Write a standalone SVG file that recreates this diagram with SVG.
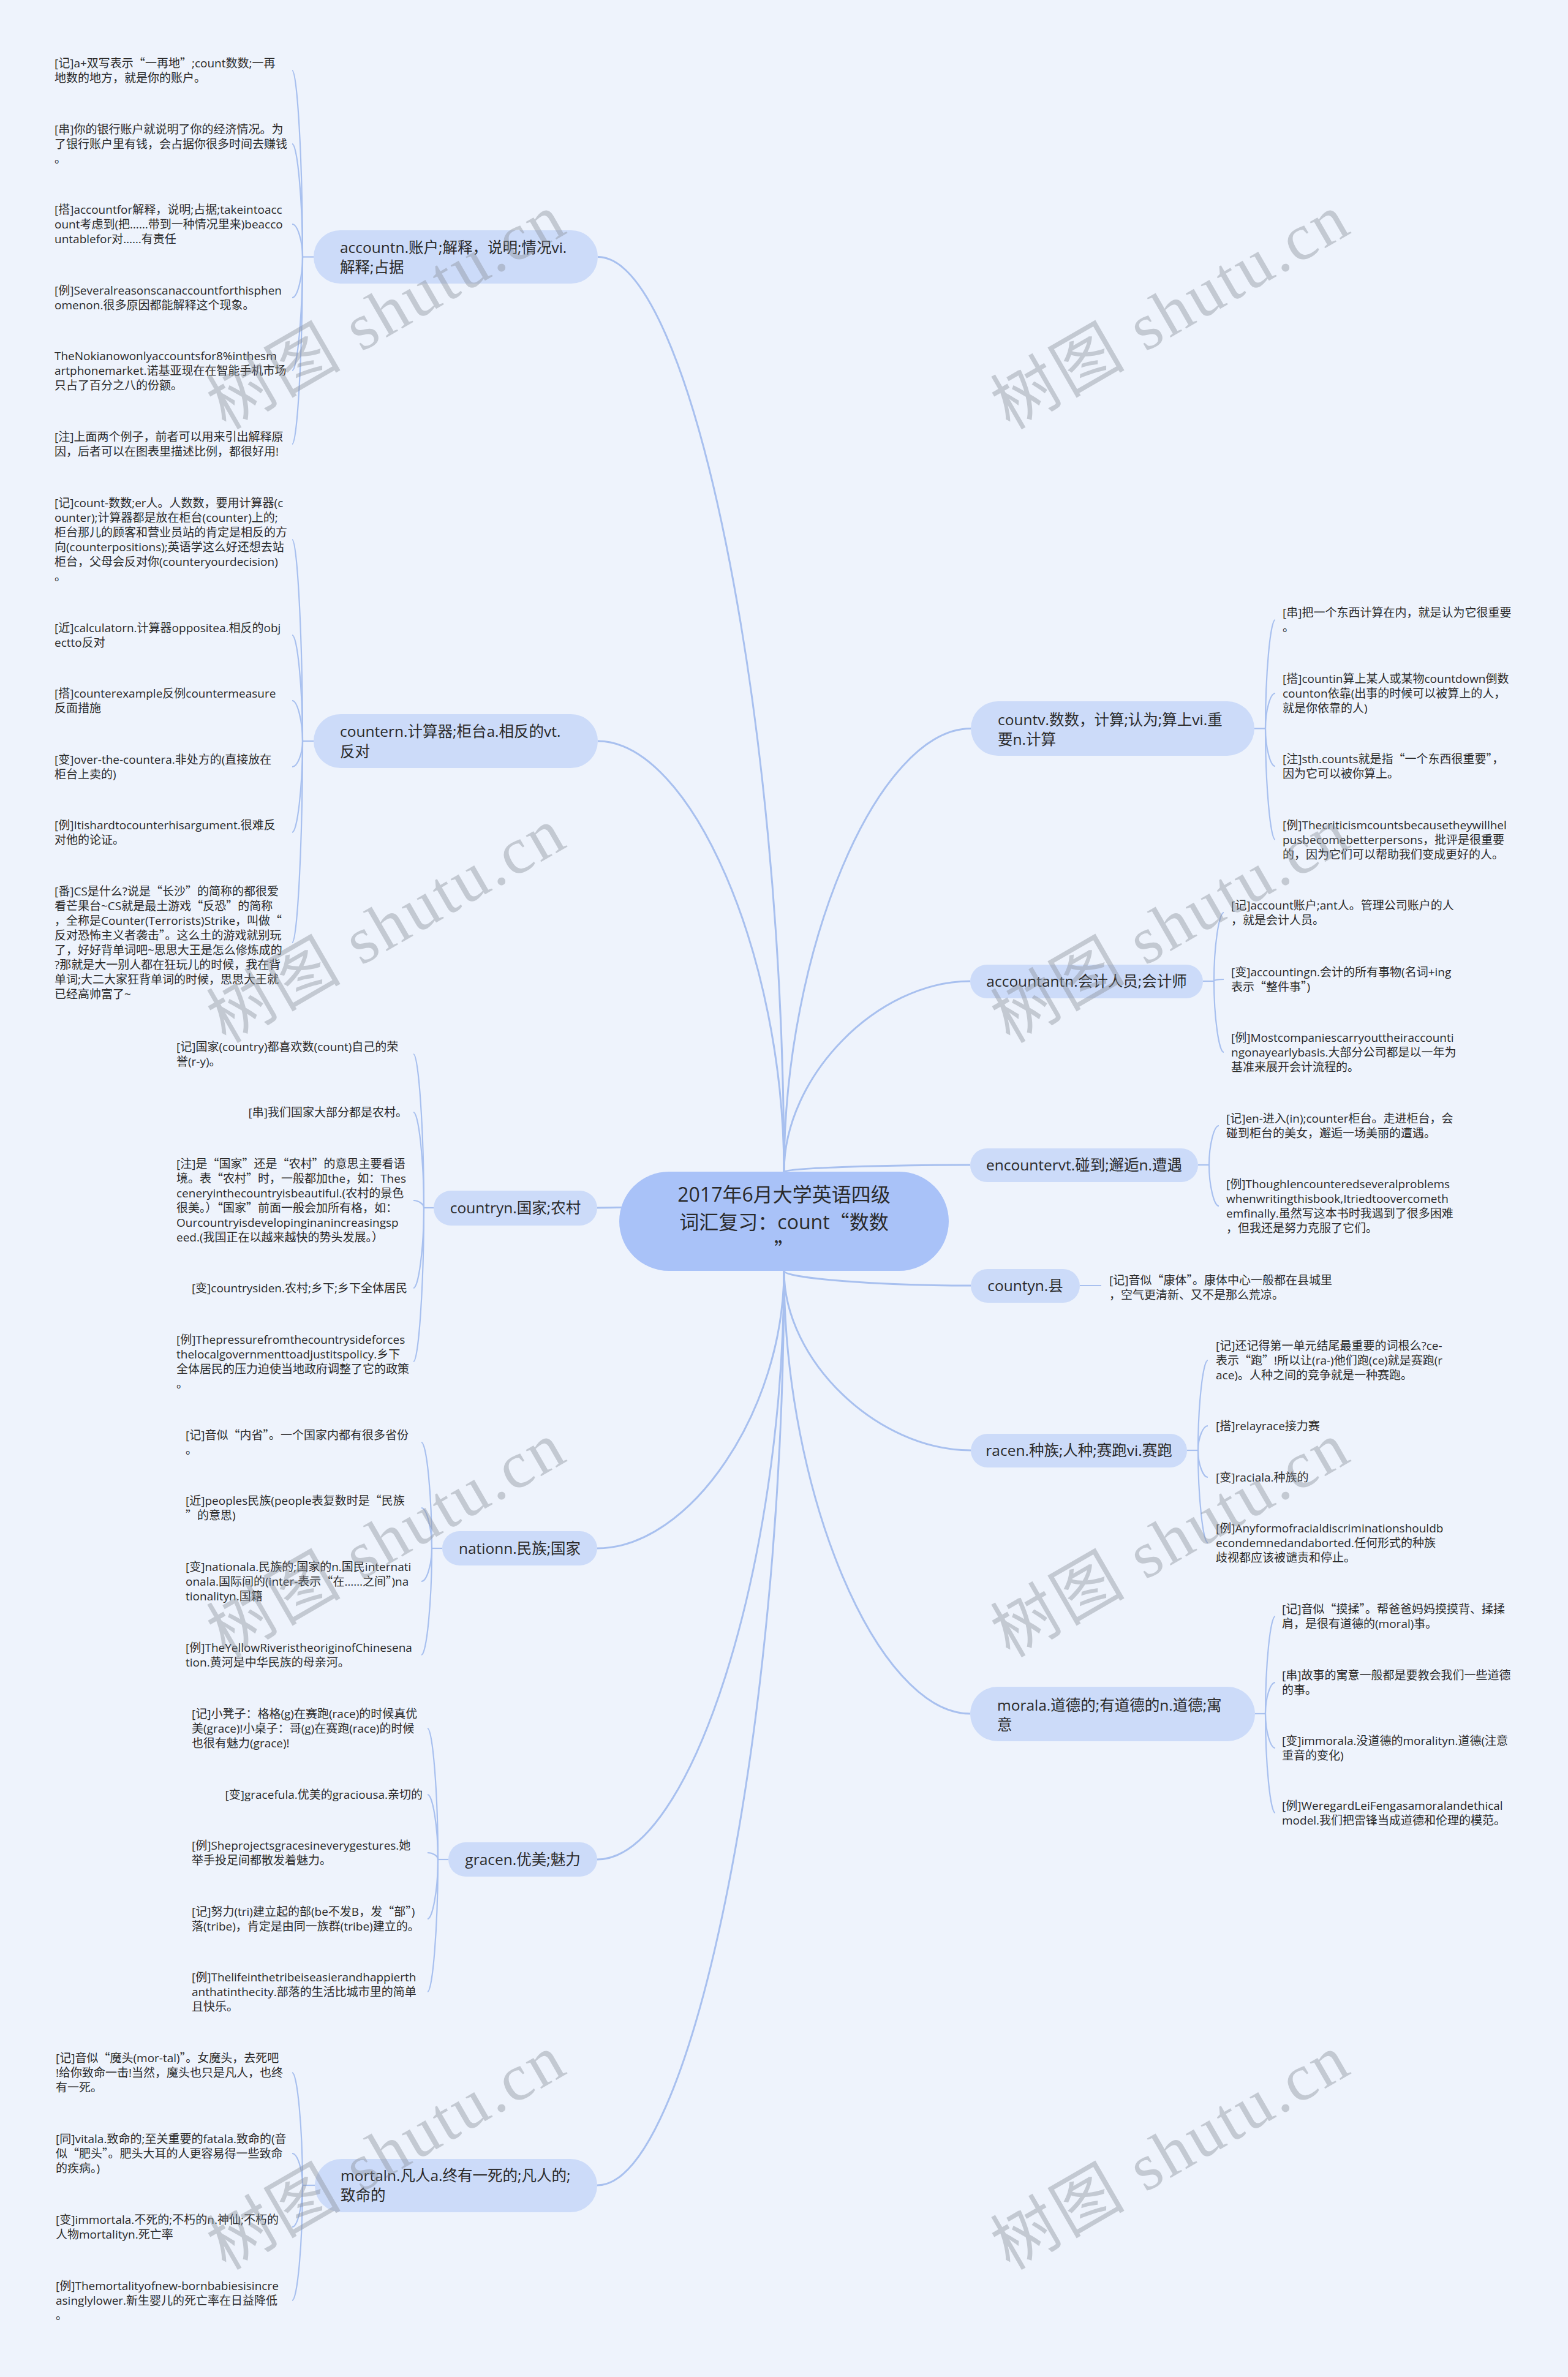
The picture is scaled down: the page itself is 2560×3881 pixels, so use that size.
<svg xmlns="http://www.w3.org/2000/svg" width="2560" height="3881" viewBox="0 0 2560 3881">
<defs>
<style>
.bg{fill:#eef3fc}
.mn{fill:#ccdbf9}
.ct{fill:#a9c2f8}
.ln{fill:none;stroke:#a8c0ef;stroke-width:3}
.ll{fill:none;stroke:#a8c0ef;stroke-width:2.2}
.t{font-family:'Open Sans','Noto Sans CJK SC',sans-serif;fill:#2a2a2a}
.q{font-family:'Noto Sans CJK SC',sans-serif}
.lf{font-size:19px}
.mt{font-size:24.5px}
.cx{font-size:32px}
.wm{font-family:'Liberation Serif','Noto Sans CJK SC',serif;font-size:108px;fill:#8a909a;opacity:0.42;letter-spacing:4px}
</style>
</defs>
<rect class="bg" x="0" y="0" width="2560" height="3881"/>

<g id="connectors">
<path class="ln" d="M1280 1913 C1280 1166 1128 419.5 976 419.5"/>
<path class="ln" d="M1280 1913 C1280 1561.5 1128 1210 976 1210"/>
<path class="ln" d="M1280 1913 C1280 1942.5 1127.5 1972 975 1972"/>
<path class="ln" d="M1280 1913 C1280 1551 1432.5 1189.5 1585 1189.5"/>
<path class="ln" d="M1280 1913 C1280 1757.5 1432 1602 1584 1602"/>
<path class="ln" d="M1280 1913 C1280 1907.5 1432 1902 1584 1902"/>
<path class="ln" d="M1280 2075 C1280 2301.5 1127.5 2528 975 2528"/>
<path class="ln" d="M1280 2075 C1280 2555.5 1127.5 3036 975 3036"/>
<path class="ln" d="M1280 2075 C1280 2821.5 1127.5 3568 975 3568"/>
<path class="ln" d="M1280 2075 C1280 2087 1432.5 2099 1585 2099"/>
<path class="ln" d="M1280 2075 C1280 2221.5 1432.5 2368 1585 2368"/>
<path class="ln" d="M1280 2075 C1280 2436.5 1432 2798 1584 2798"/>

<path class="ll" d="M512 419.5 H494"/>
<path class="ll" d="M494 419.5 C494 267 485.5 115 477 115"/>
<path class="ll" d="M494 419.5 C494 327 485.5 235 477 235"/>
<path class="ll" d="M494 419.5 C494 393 485.5 366 477 366"/>
<path class="ll" d="M494 419.5 C494 453 485.5 486 477 486"/>
<path class="ll" d="M494 419.5 C494 512 485.5 605 477 605"/>
<path class="ll" d="M494 419.5 C494 572 485.5 725 477 725"/>

<path class="ll" d="M512 1210 H494"/>
<path class="ll" d="M494 1210 C494 1045 485.5 881 477 881"/>
<path class="ll" d="M494 1210 C494 1123 485.5 1037 477 1037"/>
<path class="ll" d="M494 1210 C494 1177 485.5 1144 477 1144"/>
<path class="ll" d="M494 1210 C494 1231 485.5 1252 477 1252"/>
<path class="ll" d="M494 1210 C494 1284 485.5 1359 477 1359"/>
<path class="ll" d="M494 1210 C494 1374 485.5 1539 477 1539"/>

<path class="ll" d="M708 1972 H692"/>
<path class="ll" d="M692 1972 C692 1846 683.5 1721 675 1721"/>
<path class="ll" d="M692 1972 C692 1894 683.5 1816 675 1816"/>
<path class="ll" d="M692 1972 C692 1966 683.5 1960 675 1960"/>
<path class="ll" d="M692 1972 C692 2037 683.5 2103 675 2103"/>
<path class="ll" d="M692 1972 C692 2097 683.5 2223 675 2223"/>

<path class="ll" d="M722 2528 H705"/>
<path class="ll" d="M705 2528 C705 2441 696.5 2355 688 2355"/>
<path class="ll" d="M705 2528 C705 2495 696.5 2462 688 2462"/>
<path class="ll" d="M705 2528 C705 2555 696.5 2582 688 2582"/>
<path class="ll" d="M705 2528 C705 2615 696.5 2702 688 2702"/>

<path class="ll" d="M732 3036 H715"/>
<path class="ll" d="M715 3036 C715 2929 706.5 2822 698 2822"/>
<path class="ll" d="M715 3036 C715 2983 706.5 2930 698 2930"/>
<path class="ll" d="M715 3036 C715 3030 706.5 3025 698 3025"/>
<path class="ll" d="M715 3036 C715 3084 706.5 3133 698 3133"/>
<path class="ll" d="M715 3036 C715 3144 706.5 3252 698 3252"/>

<path class="ll" d="M514 3568 H494"/>
<path class="ll" d="M494 3568 C494 3476 485.5 3384 477 3384"/>
<path class="ll" d="M494 3568 C494 3542 485.5 3516 477 3516"/>
<path class="ll" d="M494 3568 C494 3602 485.5 3636 477 3636"/>
<path class="ll" d="M494 3568 C494 3662 485.5 3756 477 3756"/>

<path class="ll" d="M2048 1189.5 H2066"/>
<path class="ll" d="M2066 1189.5 C2066 1100 2074 1012 2082 1012"/>
<path class="ll" d="M2066 1189.5 C2066 1160 2074 1132 2082 1132"/>
<path class="ll" d="M2066 1189.5 C2066 1220 2074 1251 2082 1251"/>
<path class="ll" d="M2066 1189.5 C2066 1280 2074 1371 2082 1371"/>

<path class="ll" d="M1964 1602 H1982"/>
<path class="ll" d="M1982 1602 C1982 1546 1990 1490 1998 1490"/>
<path class="ll" d="M1982 1602 C1982 1600 1990 1599 1998 1599"/>
<path class="ll" d="M1982 1602 C1982 1660 1990 1718 1998 1718"/>

<path class="ll" d="M1956 1902 H1974"/>
<path class="ll" d="M1974 1902 C1974 1870 1982 1838 1990 1838"/>
<path class="ll" d="M1974 1902 C1974 1935 1982 1969 1990 1969"/>

<path class="ll" d="M1763 2099 H1798"/>

<path class="ll" d="M1938 2368 H1956"/>
<path class="ll" d="M1956 2368 C1956 2294 1964 2221 1972 2221"/>
<path class="ll" d="M1956 2368 C1956 2348 1964 2328 1972 2328"/>
<path class="ll" d="M1956 2368 C1956 2390 1964 2412 1972 2412"/>
<path class="ll" d="M1956 2368 C1956 2443 1964 2519 1972 2519"/>

<path class="ll" d="M2049 2798 H2066"/>
<path class="ll" d="M2066 2798 C2066 2718 2074 2639 2082 2639"/>
<path class="ll" d="M2066 2798 C2066 2772 2074 2747 2082 2747"/>
<path class="ll" d="M2066 2798 C2066 2826 2074 2854 2082 2854"/>
<path class="ll" d="M2066 2798 C2066 2879 2074 2960 2082 2960"/>
</g>

<g id="center">
<rect class="ct" x="1011" y="1913" width="538" height="162" rx="81"/>
<text class="t cx" text-anchor="middle"><tspan x="1280" y="1962">2017年6月大学英语四级</tspan><tspan x="1280" y="2007">词汇复习：count<tspan class="q">“</tspan>数数</tspan><tspan x="1280" y="2052" class="q">”</tspan></text>
</g>

<g id="n-account">
<rect class="mn" x="512" y="376" width="464" height="87" rx="43.5"/>
<text class="t mt"><tspan x="555" y="413">accountn.账户;解释，说明;情况vi.</tspan><tspan x="555" y="445">解释;占据</tspan></text>
</g>
<g id="n-account-leaves">
<text class="t lf"><tspan x="89" y="110">[记]a+双写表示<tspan class="q">“</tspan>一再地<tspan class="q">”</tspan>;count数数;一再</tspan><tspan x="89" y="134">地数的地方，就是你的账户。</tspan></text>
<text class="t lf"><tspan x="89" y="218">[串]你的银行账户就说明了你的经济情况。为</tspan><tspan x="89" y="242">了银行账户里有钱，会占据你很多时间去赚钱</tspan><tspan x="89" y="266">。</tspan></text>
<text class="t lf"><tspan x="89" y="349">[搭]accountfor解释，说明;占据;takeintoacc</tspan><tspan x="89" y="373">ount考虑到(把……带到一种情况里来)beacco</tspan><tspan x="89" y="397">untablefor对……有责任</tspan></text>
<text class="t lf"><tspan x="89" y="481">[例]Severalreasonscanaccountforthisphen</tspan><tspan x="89" y="505">omenon.很多原因都能解释这个现象。</tspan></text>
<text class="t lf"><tspan x="89" y="588">TheNokianowonlyaccountsfor8%inthesm</tspan><tspan x="89" y="612">artphonemarket.诺基亚现在在智能手机市场</tspan><tspan x="89" y="636">只占了百分之八的份额。</tspan></text>
<text class="t lf"><tspan x="89" y="720">[注]上面两个例子，前者可以用来引出解释原</tspan><tspan x="89" y="744">因，后者可以在图表里描述比例，都很好用!</tspan></text>
</g>

<g id="n-counter">
<rect class="mn" x="512" y="1166" width="464" height="88" rx="44"/>
<text class="t mt"><tspan x="555" y="1203">countern.计算器;柜台a.相反的vt.</tspan><tspan x="555" y="1236">反对</tspan></text>
</g>
<g id="n-counter-leaves">
<text class="t lf"><tspan x="89" y="828">[记]count-数数;er人。人数数，要用计算器(c</tspan><tspan x="89" y="852">ounter);计算器都是放在柜台(counter)上的;</tspan><tspan x="89" y="876">柜台那儿的顾客和营业员站的肯定是相反的方</tspan><tspan x="89" y="900">向(counterpositions);英语学这么好还想去站</tspan><tspan x="89" y="924">柜台，父母会反对你(counteryourdecision)</tspan><tspan x="89" y="948">。</tspan></text>
<text class="t lf"><tspan x="89" y="1032">[近]calculatorn.计算器oppositea.相反的obj</tspan><tspan x="89" y="1056">ectto反对</tspan></text>
<text class="t lf"><tspan x="89" y="1139">[搭]counterexample反例countermeasure</tspan><tspan x="89" y="1163">反面措施</tspan></text>
<text class="t lf"><tspan x="89" y="1247">[变]over-the-countera.非处方的(直接放在</tspan><tspan x="89" y="1271">柜台上卖的)</tspan></text>
<text class="t lf"><tspan x="89" y="1354">[例]Itishardtocounterhisargument.很难反</tspan><tspan x="89" y="1378">对他的论证。</tspan></text>
<text class="t lf"><tspan x="89" y="1462">[番]CS是什么?说是<tspan class="q">“</tspan>长沙<tspan class="q">”</tspan>的简称的都很爱</tspan><tspan x="89" y="1486">看芒果台~CS就是最土游戏<tspan class="q">“</tspan>反恐<tspan class="q">”</tspan>的简称</tspan><tspan x="89" y="1510">，全称是Counter(Terrorists)Strike，叫做<tspan class="q">“</tspan></tspan><tspan x="89" y="1534">反对恐怖主义者袭击<tspan class="q">”</tspan>。这么土的游戏就别玩</tspan><tspan x="89" y="1558">了，好好背单词吧~思思大王是怎么修炼成的</tspan><tspan x="89" y="1582">?那就是大一别人都在狂玩儿的时候，我在背</tspan><tspan x="89" y="1606">单词;大二大家狂背单词的时候，思思大王就</tspan><tspan x="89" y="1630">已经高帅富了~</tspan></text>
</g>

<g id="n-country">
<rect class="mn" x="708" y="1944" width="267" height="57" rx="28.5"/>
<text class="t mt" x="841.5" y="1981" text-anchor="middle">countryn.国家;农村</text>
</g>
<g id="n-country-leaves">
<text class="t lf"><tspan x="288" y="1716">[记]国家(country)都喜欢数(count)自己的荣</tspan><tspan x="288" y="1740">誉(r-y)。</tspan></text>
<text class="t lf" x="665" y="1823" text-anchor="end">[串]我们国家大部分都是农村。</text>
<text class="t lf"><tspan x="288" y="1907">[注]是<tspan class="q">“</tspan>国家<tspan class="q">”</tspan>还是<tspan class="q">“</tspan>农村<tspan class="q">”</tspan>的意思主要看语</tspan><tspan x="288" y="1931">境。表<tspan class="q">“</tspan>农村<tspan class="q">”</tspan>时，一般都加the，如：Thes</tspan><tspan x="288" y="1955">ceneryinthecountryisbeautiful.(农村的景色</tspan><tspan x="288" y="1979">很美。）<tspan class="q">“</tspan>国家<tspan class="q">”</tspan>前面一般会加所有格，如：</tspan><tspan x="288" y="2003">Ourcountryisdevelopinginanincreasingsp</tspan><tspan x="288" y="2027">eed.(我国正在以越来越快的势头发展。）</tspan></text>
<text class="t lf" x="665" y="2110" text-anchor="end">[变]countrysiden.农村;乡下;乡下全体居民</text>
<text class="t lf"><tspan x="288" y="2194">[例]Thepressurefromthecountrysideforces</tspan><tspan x="288" y="2218">thelocalgovernmenttoadjustitspolicy.乡下</tspan><tspan x="288" y="2242">全体居民的压力迫使当地政府调整了它的政策</tspan><tspan x="288" y="2266">。</tspan></text>
</g>

<g id="n-nation">
<rect class="mn" x="722" y="2500" width="253" height="56" rx="28"/>
<text class="t mt" x="848.5" y="2537" text-anchor="middle">nationn.民族;国家</text>
</g>
<g id="n-nation-leaves">
<text class="t lf"><tspan x="303" y="2350">[记]音似<tspan class="q">“</tspan>内省<tspan class="q">”</tspan>。一个国家内都有很多省份</tspan><tspan x="303" y="2374">。</tspan></text>
<text class="t lf"><tspan x="303" y="2457">[近]peoples民族(people表复数时是<tspan class="q">“</tspan>民族</tspan><tspan x="303" y="2481"><tspan class="q">”</tspan>的意思)</tspan></text>
<text class="t lf"><tspan x="303" y="2565">[变]nationala.民族的;国家的n.国民internati</tspan><tspan x="303" y="2589">onala.国际间的(inter-表示<tspan class="q">“</tspan>在……之间<tspan class="q">”</tspan>)na</tspan><tspan x="303" y="2613">tionalityn.国籍</tspan></text>
<text class="t lf"><tspan x="303" y="2697">[例]TheYellowRiveristheoriginofChinesena</tspan><tspan x="303" y="2721">tion.黄河是中华民族的母亲河。</tspan></text>
</g>

<g id="n-grace">
<rect class="mn" x="732" y="3008" width="243" height="56" rx="28"/>
<text class="t mt" x="853.5" y="3045" text-anchor="middle">gracen.优美;魅力</text>
</g>
<g id="n-grace-leaves">
<text class="t lf"><tspan x="313" y="2805">[记]小凳子：格格(g)在赛跑(race)的时候真优</tspan><tspan x="313" y="2829">美(grace)!小桌子：哥(g)在赛跑(race)的时候</tspan><tspan x="313" y="2853">也很有魅力(grace)!</tspan></text>
<text class="t lf" x="690" y="2937" text-anchor="end">[变]gracefula.优美的graciousa.亲切的</text>
<text class="t lf"><tspan x="313" y="3020">[例]Sheprojectsgracesineverygestures.她</tspan><tspan x="313" y="3044">举手投足间都散发着魅力。</tspan></text>
<text class="t lf"><tspan x="313" y="3128">[记]努力(tri)建立起的部(be不发B，发<tspan class="q">“</tspan>部<tspan class="q">”</tspan>)</tspan><tspan x="313" y="3152">落(tribe)，肯定是由同一族群(tribe)建立的。</tspan></text>
<text class="t lf"><tspan x="313" y="3235">[例]Thelifeinthetribeiseasierandhappierth</tspan><tspan x="313" y="3259">anthatinthecity.部落的生活比城市里的简单</tspan><tspan x="313" y="3283">且快乐。</tspan></text>
</g>

<g id="n-mortal">
<rect class="mn" x="514" y="3525" width="461" height="87" rx="43.5"/>
<text class="t mt"><tspan x="556" y="3561">mortaln.凡人a.终有一死的;凡人的;</tspan><tspan x="556" y="3593">致命的</tspan></text>
</g>
<g id="n-mortal-leaves">
<text class="t lf"><tspan x="91" y="3367">[记]音似<tspan class="q">“</tspan>魔头(mor-tal)<tspan class="q">”</tspan>。女魔头，去死吧</tspan><tspan x="91" y="3391">!给你致命一击!当然，魔头也只是凡人，也终</tspan><tspan x="91" y="3415">有一死。</tspan></text>
<text class="t lf"><tspan x="91" y="3499">[同]vitala.致命的;至关重要的fatala.致命的(音</tspan><tspan x="91" y="3523">似<tspan class="q">“</tspan>肥头<tspan class="q">”</tspan>。肥头大耳的人更容易得一些致命</tspan><tspan x="91" y="3547">的疾病。)</tspan></text>
<text class="t lf"><tspan x="91" y="3631">[变]immortala.不死的;不朽的n.神仙;不朽的</tspan><tspan x="91" y="3655">人物mortalityn.死亡率</tspan></text>
<text class="t lf"><tspan x="91" y="3739">[例]Themortalityofnew-bornbabiesisincre</tspan><tspan x="91" y="3763">asinglylower.新生婴儿的死亡率在日益降低</tspan><tspan x="91" y="3787">。</tspan></text>
</g>

<g id="n-count">
<rect class="mn" x="1585" y="1145" width="463" height="89" rx="44.5"/>
<text class="t mt"><tspan x="1629" y="1184">countv.数数，计算;认为;算上vi.重</tspan><tspan x="1629" y="1216">要n.计算</tspan></text>
</g>
<g id="n-count-leaves">
<text class="t lf"><tspan x="2094" y="1007">[串]把一个东西计算在内，就是认为它很重要</tspan><tspan x="2094" y="1031">。</tspan></text>
<text class="t lf"><tspan x="2094" y="1115">[搭]countin算上某人或某物countdown倒数</tspan><tspan x="2094" y="1139">counton依靠(出事的时候可以被算上的人，</tspan><tspan x="2094" y="1163">就是你依靠的人)</tspan></text>
<text class="t lf"><tspan x="2094" y="1246">[注]sth.counts就是指<tspan class="q">“</tspan>一个东西很重要<tspan class="q">”</tspan>，</tspan><tspan x="2094" y="1270">因为它可以被你算上。</tspan></text>
<text class="t lf"><tspan x="2094" y="1354">[例]Thecriticismcountsbecausetheywillhel</tspan><tspan x="2094" y="1378">pusbecomebetterpersons，批评是很重要</tspan><tspan x="2094" y="1402">的，因为它们可以帮助我们变成更好的人。</tspan></text>
</g>

<g id="n-accountant">
<rect class="mn" x="1584" y="1575" width="380" height="55" rx="27.5"/>
<text class="t mt" x="1774" y="1611" text-anchor="middle">accountantn.会计人员;会计师</text>
</g>
<g id="n-accountant-leaves">
<text class="t lf"><tspan x="2010" y="1485">[记]account账户;ant人。管理公司账户的人</tspan><tspan x="2010" y="1509">，就是会计人员。</tspan></text>
<text class="t lf"><tspan x="2010" y="1594">[变]accountingn.会计的所有事物(名词+ing</tspan><tspan x="2010" y="1618">表示<tspan class="q">“</tspan>整件事<tspan class="q">”</tspan>)</tspan></text>
<text class="t lf"><tspan x="2010" y="1701">[例]Mostcompaniescarryouttheiraccounti</tspan><tspan x="2010" y="1725">ngonayearlybasis.大部分公司都是以一年为</tspan><tspan x="2010" y="1749">基准来展开会计流程的。</tspan></text>
</g>

<g id="n-encounter">
<rect class="mn" x="1584" y="1875" width="372" height="55" rx="27.5"/>
<text class="t mt" x="1770" y="1911" text-anchor="middle">encountervt.碰到;邂逅n.遭遇</text>
</g>
<g id="n-encounter-leaves">
<text class="t lf"><tspan x="2002" y="1833">[记]en-进入(in);counter柜台。走进柜台，会</tspan><tspan x="2002" y="1857">碰到柜台的美女，邂逅一场美丽的遭遇。</tspan></text>
<text class="t lf"><tspan x="2002" y="1940">[例]ThoughIencounteredseveralproblems</tspan><tspan x="2002" y="1964">whenwritingthisbook,Itriedtoovercometh</tspan><tspan x="2002" y="1988">emfinally.虽然写这本书时我遇到了很多困难</tspan><tspan x="2002" y="2012">，但我还是努力克服了它们。</tspan></text>
</g>

<g id="n-county">
<rect class="mn" x="1585" y="2072" width="178" height="55" rx="27.5"/>
<text class="t mt" x="1674" y="2108" text-anchor="middle">countyn.县</text>
</g>
<g id="n-county-leaves">
<text class="t lf"><tspan x="1811" y="2097">[记]音似<tspan class="q">“</tspan>康体<tspan class="q">”</tspan>。康体中心一般都在县城里</tspan><tspan x="1811" y="2121">，空气更清新、又不是那么荒凉。</tspan></text>
</g>

<g id="n-race">
<rect class="mn" x="1585" y="2341" width="353" height="55" rx="27.5"/>
<text class="t mt" x="1761.5" y="2377" text-anchor="middle">racen.种族;人种;赛跑vi.赛跑</text>
</g>
<g id="n-race-leaves">
<text class="t lf"><tspan x="1985" y="2204">[记]还记得第一单元结尾最重要的词根么?ce-</tspan><tspan x="1985" y="2228">表示<tspan class="q">“</tspan>跑<tspan class="q">”</tspan>!所以让(ra-)他们跑(ce)就是赛跑(r</tspan><tspan x="1985" y="2252">ace)。人种之间的竞争就是一种赛跑。</tspan></text>
<text class="t lf" x="1985" y="2335">[搭]relayrace接力赛</text>
<text class="t lf" x="1985" y="2419">[变]raciala.种族的</text>
<text class="t lf"><tspan x="1985" y="2502">[例]Anyformofracialdiscriminationshouldb</tspan><tspan x="1985" y="2526">econdemnedandaborted.任何形式的种族</tspan><tspan x="1985" y="2550">歧视都应该被谴责和停止。</tspan></text>
</g>

<g id="n-moral">
<rect class="mn" x="1584" y="2754" width="465" height="89" rx="44.5"/>
<text class="t mt"><tspan x="1628" y="2793">morala.道德的;有道德的n.道德;寓</tspan><tspan x="1628" y="2825">意</tspan></text>
</g>
<g id="n-moral-leaves">
<text class="t lf"><tspan x="2093" y="2634">[记]音似<tspan class="q">“</tspan>摸揉<tspan class="q">”</tspan>。帮爸爸妈妈摸摸背、揉揉</tspan><tspan x="2093" y="2658">肩，是很有道德的(moral)事。</tspan></text>
<text class="t lf"><tspan x="2093" y="2742">[串]故事的寓意一般都是要教会我们一些道德</tspan><tspan x="2093" y="2766">的事。</tspan></text>
<text class="t lf"><tspan x="2093" y="2849">[变]immorala.没道德的moralityn.道德(注意</tspan><tspan x="2093" y="2873">重音的变化)</tspan></text>
<text class="t lf"><tspan x="2093" y="2955">[例]WeregardLeiFengasamoralandethical</tspan><tspan x="2093" y="2979">model.我们把雷锋当成道德和伦理的模范。</tspan></text>
</g>

<g id="watermarks">
<text class="wm" text-anchor="middle" transform="translate(650 540) rotate(-30)">树图 shutu.cn</text>
<text class="wm" text-anchor="middle" transform="translate(1930 540) rotate(-30)">树图 shutu.cn</text>
<text class="wm" text-anchor="middle" transform="translate(650 1542) rotate(-30)">树图 shutu.cn</text>
<text class="wm" text-anchor="middle" transform="translate(1930 1542) rotate(-30)">树图 shutu.cn</text>
<text class="wm" text-anchor="middle" transform="translate(650 2545) rotate(-30)">树图 shutu.cn</text>
<text class="wm" text-anchor="middle" transform="translate(1930 2545) rotate(-30)">树图 shutu.cn</text>
<text class="wm" text-anchor="middle" transform="translate(650 3545) rotate(-30)">树图 shutu.cn</text>
<text class="wm" text-anchor="middle" transform="translate(1930 3545) rotate(-30)">树图 shutu.cn</text>
</g>
</svg>
